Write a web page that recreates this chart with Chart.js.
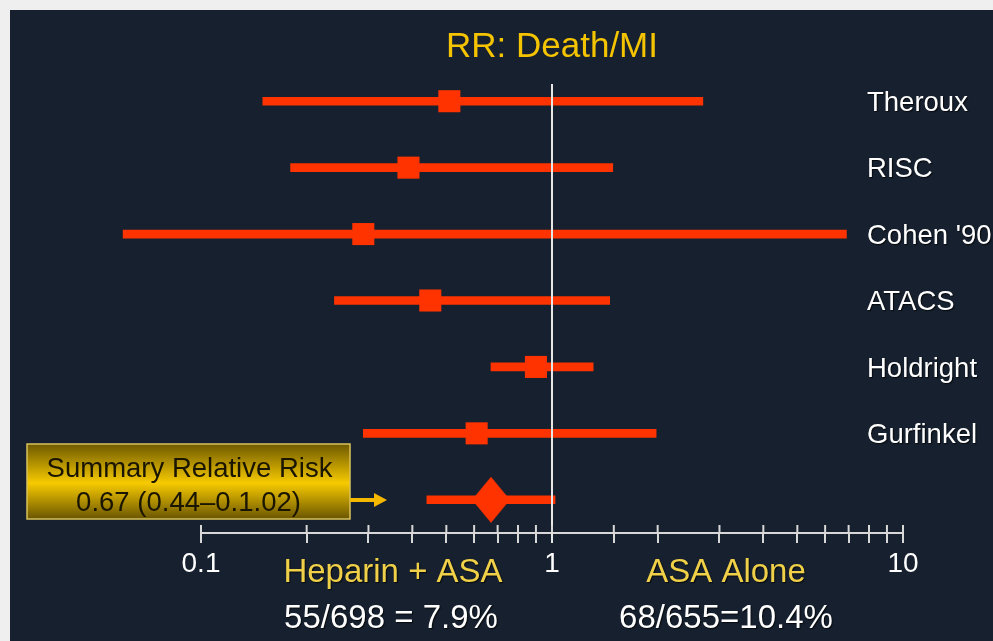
<!DOCTYPE html>
<html><head><meta charset="utf-8">
<script src="https://cdn.jsdelivr.net/npm/chart.js@4/dist/chart.umd.min.js"></script>
<style>html,body{margin:0;padding:0;background:#efefef;overflow:hidden}canvas{display:block}</style>
</head><body>
<canvas id="c" width="993" height="641"></canvas>
<script>
// ---- data ----
const studies = ['Theroux', 'RISC', "Cohen '90", 'ATACS', 'Holdright', 'Gurfinkel'];
const pointRR = [0.51, 0.39, 0.29, 0.45, 0.90, 0.61];
const lowerCI = [0.15, 0.18, 0.06, 0.24, 0.67, 0.29];
const upperCI = [2.69, 1.49, 6.9, 1.46, 1.31, 1.98];
const summaryLabel = 'Summary';
const summaryRR = 0.67;
const summaryLow = 0.44;
const summaryHigh = 1.02;
const xLabeledTicks = [0.1, 1, 10];
const groupLabels = ['Heparin + ASA', 'ASA Alone'];
const groupRates = ['55/698 = 7.9%', '68/655=10.4%'];
const summaryText = ['Summary Relative Risk', '0.67 (0.44–0.1.02)'];
const titleText = 'RR: Death/MI';

const FONT = '"Liberation Sans", Arial, sans-serif';
const RED = '#ff3300';

const rowLabels = [...studies, summaryLabel];
const ciBars = rowLabels.map((_, i) => i < studies.length ? [lowerCI[i], upperCI[i]] : [summaryLow, summaryHigh]);
const studyPoints = studies.map((s, i) => ({ x: pointRR[i], y: s }));
const summaryPoints = [{ x: summaryRR, y: summaryLabel }];

// diamond marker style
const diamond = document.createElement('canvas');
diamond.width = 38; diamond.height = 46;
{
  const d = diamond.getContext('2d');
  d.fillStyle = RED;
  d.beginPath();
  d.moveTo(19, 0); d.lineTo(38, 23); d.lineTo(19, 46); d.lineTo(0, 23); d.closePath();
  d.fill();
}

const decor = {
  id: 'decor',
  beforeDraw(chart) {
    const ctx = chart.ctx;
    ctx.save();
    ctx.fillStyle = '#efefef';
    ctx.fillRect(0, 0, chart.width, chart.height);
    ctx.fillStyle = '#16202e';
    ctx.fillRect(10, 10, chart.width - 10, chart.height - 10);
    ctx.restore();
  },
  afterDatasetsDraw(chart) {
    const ctx = chart.ctx;
    const xs = chart.scales.x, ys = chart.scales.y;
    const ca = chart.chartArea;
    ctx.save();
    // reference line at RR = 1
    const x1 = xs.getPixelForValue(1);
    ctx.strokeStyle = '#e6e6e6';
    ctx.lineWidth = 2;
    ctx.beginPath();
    ctx.moveTo(x1, 84); ctx.lineTo(x1, ca.bottom + 10);
    ctx.stroke();
    // upper half of tick marks
    ctx.strokeStyle = '#d8d8d8';
    xs.ticks.forEach(t => {
      const px = xs.getPixelForValue(t.value);
      ctx.beginPath(); ctx.moveTo(px, ca.bottom - 8); ctx.lineTo(px, ca.bottom); ctx.stroke();
    });
    // study labels
    ctx.shadowColor = 'rgba(0,0,0,0.7)';
    ctx.shadowOffsetX = 1; ctx.shadowOffsetY = 1; ctx.shadowBlur = 1;
    ctx.fillStyle = '#ffffff';
    ctx.font = '27.5px ' + FONT;
    ctx.textAlign = 'left'; ctx.textBaseline = 'middle';
    studies.forEach((s, i) => {
      ctx.fillText(s, 867, ys.getPixelForValue(i) + 2);
    });
    // group labels
    ctx.textAlign = 'center';
    ctx.font = '33px ' + FONT;
    ctx.fillStyle = '#f0d048';
    ctx.fillText(groupLabels[0], 393, 573);
    ctx.fillText(groupLabels[1], 726, 573);
    ctx.fillStyle = '#ffffff';
    ctx.fillText(groupRates[0], 391, 619);
    ctx.fillText(groupRates[1], 726, 619);
    ctx.shadowColor = 'transparent';
    // summary box
    const bx = 27, by = 444, bw = 323, bh = 75;
    const g = ctx.createLinearGradient(0, by, 0, by + bh);
    g.addColorStop(0, '#6e5900');
    g.addColorStop(0.52, '#f7ca00');
    g.addColorStop(1, '#6a5500');
    ctx.fillStyle = g;
    ctx.fillRect(bx, by, bw, bh);
    ctx.strokeStyle = '#d9c25a';
    ctx.lineWidth = 1.5;
    ctx.strokeRect(bx, by, bw, bh);
    ctx.fillStyle = '#1a1500';
    ctx.font = '27.5px ' + FONT;
    ctx.fillText(summaryText[0], bx + bw / 2 + 1, 469);
    ctx.fillText(summaryText[1], bx + bw / 2, 503);
    // arrow
    ctx.fillStyle = '#f5b800';
    ctx.fillRect(bx + bw, 498, 26, 4);
    ctx.beginPath();
    ctx.moveTo(bx + bw + 24, 493); ctx.lineTo(bx + bw + 37, 500); ctx.lineTo(bx + bw + 24, 507); ctx.closePath();
    ctx.fill();
    ctx.restore();
  }
};

new Chart(document.getElementById('c'), {
  type: 'bar',
  data: {
    labels: rowLabels,
    datasets: [
      { type: 'bar', data: ciBars, backgroundColor: RED, borderWidth: 0, barThickness: 8, clip: false, order: 3 },
      { type: 'scatter', data: studyPoints, pointStyle: 'rect', pointRadius: 15.6, pointHoverRadius: 15.6,
        backgroundColor: RED, borderWidth: 0, clip: false, order: 2 },
      { type: 'scatter', data: summaryPoints, pointStyle: diamond, pointRadius: 20,
        backgroundColor: RED, borderWidth: 0, clip: false, order: 1 }
    ]
  },
  options: {
    indexAxis: 'y',
    responsive: false,
    animation: false,
    events: [],
    layout: { padding: { left: 201, right: 90, top: 0, bottom: 0 } },
    plugins: {
      legend: { display: false },
      tooltip: { enabled: false },
      title: {
        display: true, text: titleText, fullSize: false, color: '#f5c400',
        font: { family: FONT, size: 35, weight: 'normal' },
        padding: { top: 26, bottom: 0 }
      }
    },
    scales: {
      y: { type: 'category', display: false, offset: true },
      x: {
        type: 'logarithmic', min: 0.1, max: 10,
        afterFit: s => { s.height = 108; },
        grid: { display: true, drawOnChartArea: false, drawTicks: true, tickLength: 10, color: '#d8d8d8', lineWidth: 2 },
        border: { display: true, color: '#d8d8d8', width: 2 },
        ticks: {
          autoSkip: false, maxRotation: 0, color: '#ffffff', padding: 4,
          font: { family: FONT, size: 28 },
          callback: v => {
            const hit = xLabeledTicks.find(t => Math.abs(Math.log10(v) - Math.log10(t)) < 1e-6);
            return hit !== undefined ? String(hit) : '';
          }
        }
      }
    }
  },
  plugins: [decor]
});
</script>
</body></html>
